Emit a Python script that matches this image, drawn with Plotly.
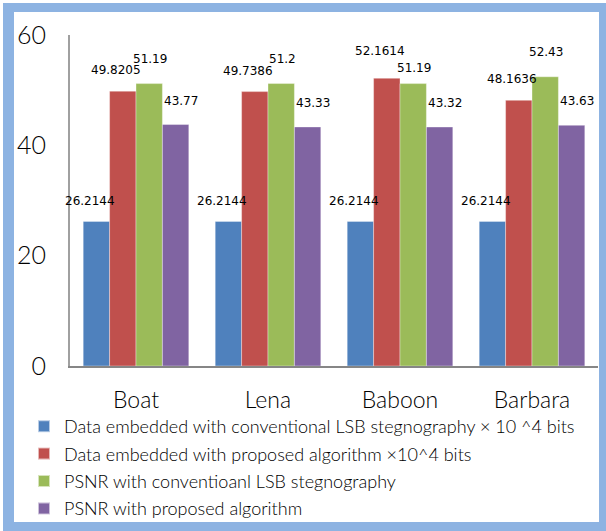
import plotly.graph_objects as go

# Test images (categories)
images = ["Boat", "Lena", "Baboon", "Barbara"]

# Series values
lsb_bits = [26.2144, 26.2144, 26.2144, 26.2144]
proposed_bits = [49.8205, 49.7386, 52.1614, 48.1636]
lsb_psnr = [51.19, 51.2, 51.19, 52.43]
proposed_psnr = [43.77, 43.33, 43.32, 43.63]

# Value label text as printed on the chart
lsb_bits_text = ["26.2144", "26.2144", "26.2144", "26.2144"]
proposed_bits_text = ["49.8205", "49.7386", "52.1614", "48.1636"]
lsb_psnr_text = ["51.19", "51.2", "51.19", "52.43"]
proposed_psnr_text = ["43.77", "43.33", "43.32", "43.63"]

y_ticks = [0, 20, 40, 60]

series = [
    ("Data embedded with conventional LSB stegnography × 10 ^4 bits", lsb_bits, lsb_bits_text, "#4F81BD"),
    ("Data embedded with proposed algorithm ×10^4 bits", proposed_bits, proposed_bits_text, "#C0504D"),
    ("PSNR with conventioanl LSB stegnography", lsb_psnr, lsb_psnr_text, "#9BBB59"),
    ("PSNR with proposed algorithm", proposed_psnr, proposed_psnr_text, "#8064A2"),
]

# label placement (pixels) per series: horizontal nudge, lift above bar top
label_dx = [-6, -7, 1, 5]
label_dy = [20, 21, 25, 24]
label_dy_fix = {(1, 2): 27, (2, 2): 16}

fig = go.Figure()
for i, (name, vals, _, color) in enumerate(series):
    fig.add_trace(go.Bar(
        x=images, y=vals, name=name, legendgroup=str(i),
        marker=dict(color=color, line=dict(color="rgba(255,255,255,0.6)", width=0.6)),
    ))

offsets = [-0.3, -0.1, 0.1, 0.3]
annotations = []
for i, (_, vals, texts, _) in enumerate(series):
    for j, (v, t) in enumerate(zip(vals, texts)):
        annotations.append(dict(
            x=j + offsets[i], y=v, xref="x", yref="y", text=t, showarrow=False,
            xshift=label_dx[i], yshift=label_dy_fix.get((i, j), label_dy[i]),
            font=dict(family="DejaVu Sans", size=12, color="#000000"),
        ))

W, H = 606, 531
L, R, T, B = 70, 8, 35, 165
pw, ph = W - L - R, H - T - B


def px(x):
    return (x - L) / pw


def py(y):
    return (H - B - y) / ph


shapes = [
    dict(type="rect", xref="paper", yref="paper", layer="below",
         x0=px(3), x1=px(W), y0=py(H), y1=py(3),
         fillcolor="#8DB3E2", line=dict(width=0)),
    dict(type="rect", xref="paper", yref="paper", layer="below",
         x0=px(14), x1=px(599), y0=py(522), y1=py(12),
         fillcolor="#FFFFFF", line=dict(width=0)),
]

fig.update_layout(
    width=W, height=H,
    margin=dict(l=L, r=R, t=T, b=B, pad=0, autoexpand=False),
    paper_bgcolor="#FFFFFF", plot_bgcolor="rgba(0,0,0,0)",
    barmode="group", bargap=0.2, bargroupgap=0,
    showlegend=True,
    legend=dict(
        x=px(24), y=py(408), xanchor="left", yanchor="top",
        orientation="v", traceorder="grouped", tracegroupgap=1,
        font=dict(family="Lato", size=18, color="#000000", weight=300),
        bgcolor="rgba(0,0,0,0)", itemsizing="constant",
    ),
    annotations=annotations,
    shapes=shapes,
    font=dict(family="Lato", color="#000000"),
)
fig.update_xaxes(
    type="category", range=[-0.5, 3.5], showgrid=False, ticks="",
    showline=True, linecolor="#868686", linewidth=1.5,
    tickfont=dict(family="Lato", size=23, color="#000000", weight=300),
    ticklabelstandoff=13,
)
fig.update_yaxes(
    range=[0, 60], tickvals=y_ticks, showgrid=False, ticks="",
    showline=True, linecolor="#A0A0A0", linewidth=2, zeroline=False,
    tickfont=dict(family="Lato", size=25, color="#000000", weight=300),
    ticklabelstandoff=17,
)

fig.write_html("out.html")
